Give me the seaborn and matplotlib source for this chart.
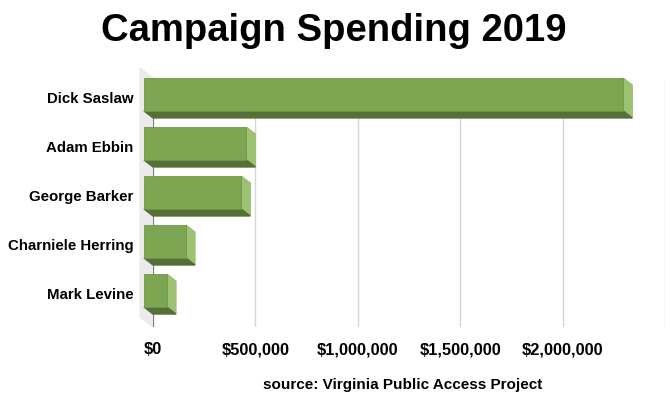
import matplotlib
matplotlib.use("Agg")
import matplotlib.pyplot as plt
import matplotlib.transforms as mtrans
from matplotlib.patches import Polygon
import pandas as pd
import seaborn as sns

# values
candidates = ["Dick Saslaw", "Adam Ebbin", "George Barker", "Charniele Herring", "Mark Levine"]
spending = [2340000, 500000, 475000, 205000, 112000]
tick_values = [0, 500000, 1000000, 1500000, 2000000, 2500000]
tick_labels = ["$0", "$500,000", "$1,000,000", "$1,500,000", "$2,000,000", ""]

df = pd.DataFrame({"Candidate": candidates, "Spending": spending})

front_color = "#7DA653"
side_color = "#9CC170"
bottom_color = "#566F36"
wall_color = "#EBEBEB"

sns.set_style("white")
plt.rcParams["font.family"] = ["Liberation Sans", "DejaVu Sans"]
plt.rcParams["text.color"] = "black"
plt.rcParams["xtick.color"] = "black"
plt.rcParams["ytick.color"] = "black"

W, H = 670, 399
fig = plt.figure(figsize=(W / 100, H / 100), dpi=100)
ax = fig.add_axes([153 / W, 1 - 327 / H, (665 - 153) / W, (327 - 78) / H])

sns.barplot(data=df, x="Spending", y="Candidate", orient="h", color=front_color,
            saturation=1, width=0.67, ax=ax, zorder=3)

ax.set_xlim(0, 2500000)
ax.set_ylim(4.6, -0.48)
ax.set_xticks(tick_values)
ax.set_xticklabels(tick_labels, fontsize=11.8, fontweight="bold", color="black")
ax.set_xlabel("")
ax.set_ylabel("")
for lab in ax.get_yticklabels():
    lab.set_fontweight("bold")
    lab.set_fontsize(10.8)
    lab.set_color("black")
ax.tick_params(axis="x", length=0, pad=11)
ax.tick_params(axis="y", length=0, pad=14)
for s in ax.spines.values():
    s.set_visible(False)
ax.xaxis.grid(True, color="#D6D6D6", lw=1)
ax.set_axisbelow(True)

# 3-d look: depth offset in pixels (front face sits up-left of the back wall)
dx, dy = 9, 7
T = ax.transData
shift = mtrans.Affine2D().translate(-dx, dy)
ident = mtrans.IdentityTransform()

# side wall
wt, wb = T.transform((0, -0.48)), T.transform((0, 4.6))
wall = Polygon([wt, wb, (wb[0] - 13, wb[1] + 10), (wt[0] - 13, wt[1] + 10)],
               closed=True, transform=ident, color=wall_color, zorder=0.5, clip_on=False)
ax.add_patch(wall)
ax.axvline(0, color="#808080", lw=1.5, zorder=1)

for p in list(ax.patches):
    if p is wall:
        continue
    x0, y0, w, h = p.get_x(), p.get_y(), p.get_width(), p.get_height()
    btr = T.transform((x0 + w, y0))
    bbr = T.transform((x0 + w, y0 + h))
    bbl = T.transform((x0, y0 + h))
    ftr = (btr[0] - dx, btr[1] + dy)
    fbr = (bbr[0] - dx, bbr[1] + dy)
    fbl = (bbl[0] - dx, bbl[1] + dy)
    ax.add_patch(Polygon([ftr, btr, bbr, fbr], closed=True, transform=ident,
                         color=side_color, zorder=2.5, clip_on=False))
    ax.add_patch(Polygon([fbl, fbr, bbr, bbl], closed=True, transform=ident,
                         color=bottom_color, zorder=2.5, clip_on=False))
    p.set_transform(T + shift)
    p.set_clip_on(False)
    p.set_edgecolor("#6E9848")
    p.set_linewidth(0.6)

# nudge category labels up to sit between front and back faces
for lab in ax.get_yticklabels():
    lab.set_transform(lab.get_transform() + mtrans.Affine2D().translate(0, 4))

fig.text(334 / W, 1 - 31 / H, "Campaign Spending 2019", ha="center", va="center",
         fontsize=27.5, fontweight="bold", color="black")
fig.text(403 / W, 1 - 385 / H, "source: Virginia Public Access Project", ha="center",
         va="center", fontsize=11, fontweight="bold", color="black")

fig.savefig("out.png", dpi=100)
